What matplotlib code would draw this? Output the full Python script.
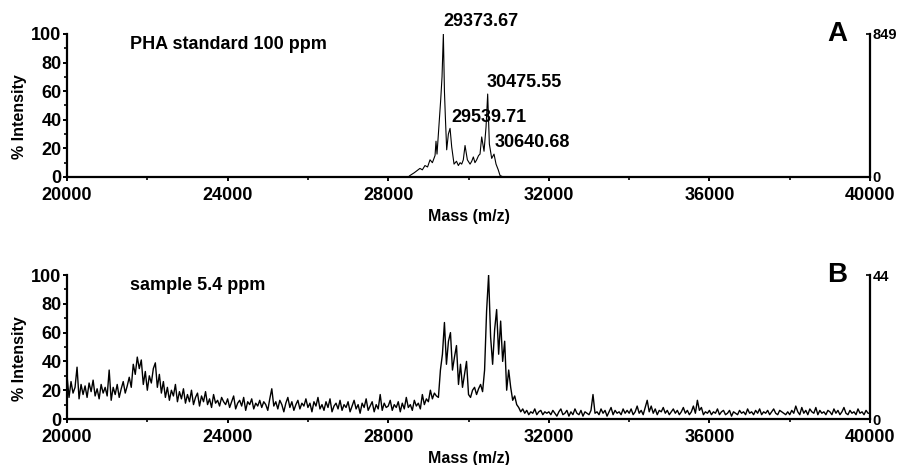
import numpy as np
import matplotlib.pyplot as plt
from matplotlib.ticker import MultipleLocator

plt.rcParams['font.family'] = ['Liberation Sans', 'DejaVu Sans']
plt.rcParams['font.weight'] = 'bold'

# panel A: PHA standard (mass, % intensity)
mass_a = [20000, 28500, 28540, 28650, 28790, 28850, 28915, 28980, 29041, 29100,
          29166, 29190, 29215, 29249, 29307, 29340, 29373, 29400, 29423, 29456,
          29498, 29540, 29581, 29639, 29700, 29747, 29790, 29830, 29870, 29913,
          29971, 30038, 30080, 30120, 30160, 30203, 30250, 30286, 30328, 30386,
          30436, 30477, 30519, 30577, 30635, 30685, 30740, 30785, 30868, 40000]
int_a = [0, 0, 1, 3, 6, 5, 8, 7, 12, 10,
         15, 25, 16, 30, 54, 70, 100, 60, 42, 19,
         30, 34, 21, 9, 11, 8, 10, 9, 12, 22,
         12, 9, 11, 14, 10, 12, 15, 16, 28, 18,
         35, 58, 23, 13, 16, 9, 5, 1, 0, 0]

# panel B: sample 5.4 ppm, one reading every 50 Da from 20000 to 40000
mass_b = list(range(20000, 40001, 50))
int_b = [
    30, 15, 26, 18, 22, 36, 14, 24, 17, 23, 15, 25, 19, 27, 16, 21, 14, 24, 18, 22,
    16, 34, 13, 22, 17, 24, 15, 21, 26, 18, 23, 29, 22, 38, 31, 43, 35, 41, 24, 33,
    20, 30, 25, 35, 39, 22, 31, 18, 26, 15, 22, 13, 20, 16, 24, 12, 19, 14, 21, 11,
    17, 12, 20, 10, 15, 18, 9, 16, 12, 19, 10, 14, 8, 17, 11, 13, 9, 15, 12, 10,
    14, 8, 12, 16, 7, 11, 13, 9, 15, 6, 12, 10, 14, 7, 11, 9, 13, 8, 12, 10,
    6, 14, 21, 9, 12, 7, 13, 10, 5, 11, 15, 8, 12, 6, 10, 13, 7, 11, 9, 14,
    8, 11, 5, 12, 9, 15, 7, 10, 6, 12, 8, 14, 5, 9, 11, 7, 13, 6, 10, 8,
    12, 5, 9, 13, 7, 10, 4, 11, 8, 14, 6, 9, 12, 5, 10, 7, 17, 6, 11, 8,
    9, 13, 6, 10, 8, 12, 5, 11, 7, 15, 8, 10, 6, 13, 9, 11, 7, 17, 10, 14,
    12, 20, 14, 18, 16, 15, 34, 45, 67, 38, 54, 60, 34, 43, 51, 24, 38, 22, 31, 40,
    17, 15, 20, 22, 17, 21, 24, 19, 34, 75, 100, 57, 38, 62, 76, 45, 68, 40, 54, 20,
    34, 22, 13, 16, 10, 8, 5, 7, 4, 6, 3, 5, 4, 7, 3, 5, 6, 3, 5, 4,
    5, 3, 6, 4, 2, 5, 7, 3, 4, 6, 2, 5, 3, 7, 4, 3, 6, 2, 5, 4,
    3, 6, 17, 4, 5, 3, 7, 4, 6, 2, 5, 8, 3, 6, 4, 5, 3, 7, 4, 6,
    4, 7, 3, 5, 9, 4, 6, 3, 8, 13, 5, 9, 4, 7, 3, 6, 5, 8, 4, 6,
    3, 5, 7, 4, 6, 3, 5, 8, 4, 6, 3, 5, 9, 4, 13, 6, 8, 3, 5, 4,
    6, 3, 5, 4, 7, 3, 5, 6, 3, 4, 6, 2, 5, 4, 3, 6, 4, 5, 3, 7,
    4, 5, 3, 6, 4, 7, 3, 5, 4, 6, 3, 5, 7, 4, 3, 6, 5, 4, 3, 5,
    3, 6, 4, 9, 5, 3, 8, 4, 6, 3, 7, 5, 4, 8, 3, 6, 4, 5, 3, 6,
    5, 3, 7, 4, 6, 3, 5, 8, 4, 3, 6, 4, 5, 3, 7, 4, 5, 3, 6, 4,
    4]

peak_labels = ['29373.67', '30475.55', '29539.71', '30640.68']
peak_pos = [(29365, 109), (30460, 66), (29564, 41.5), (30660, 24)]


def panel(rect, x, y, title, letter, right_max, lw):
    ax = fig.add_axes(rect)
    ax.plot(x, y, color='black', lw=lw)
    ax.set_xlim(20000, 40000)
    ax.set_ylim(0, 100)
    ax.xaxis.set_major_locator(MultipleLocator(4000))
    ax.xaxis.set_minor_locator(MultipleLocator(2000))
    ax.yaxis.set_major_locator(MultipleLocator(20))
    ax.yaxis.set_minor_locator(MultipleLocator(10))
    ax.spines['top'].set_visible(False)
    ax.spines['right'].set_visible(False)
    for s in ['left', 'bottom']:
        ax.spines[s].set_linewidth(1.6)
    ax.tick_params(which='major', length=3, width=1.4, labelsize=13, pad=1)
    ax.tick_params(axis='x', which='major', pad=4)
    ax.tick_params(which='minor', length=2, width=1.2)
    ax.set_ylabel('% Intensity', fontsize=11.5, fontweight='bold')
    ax.yaxis.set_label_coords(-0.05, 0.42)
    ax.set_xlabel('Mass (m/z)', fontsize=11.5, fontweight='bold', labelpad=4)
    ax.text(21569, 93, title, fontsize=13, fontweight='bold', va='center')
    ax.text(39178, 100, letter, fontsize=20, fontweight='bold', ha='center', va='center')

    ax2 = ax.twinx()
    ax2.set_ylim(0, right_max)
    ax2.set_yticks([0, right_max])
    for s in ['top', 'left', 'bottom']:
        ax2.spines[s].set_visible(False)
    ax2.spines['right'].set_linewidth(1.6)
    ax2.tick_params(length=3, width=1.2, labelsize=10.5, pad=2, direction='in')
    return ax


fig = plt.figure(figsize=(9.08, 4.65), dpi=100)

ax_a = panel([0.0738, 0.6194, 0.8844, 0.3075], mass_a, int_a,
             'PHA standard 100 ppm', 'A', 849, 0.8)
for lab, (px, py) in zip(peak_labels, peak_pos):
    ax_a.text(px, py, lab, fontsize=13, fontweight='bold', va='center', clip_on=False)

ax_b = panel([0.0738, 0.0989, 0.8844, 0.3097], mass_b, int_b,
             'sample 5.4 ppm', 'B', 44, 1.0)

fig.savefig('out.png', dpi=100)
